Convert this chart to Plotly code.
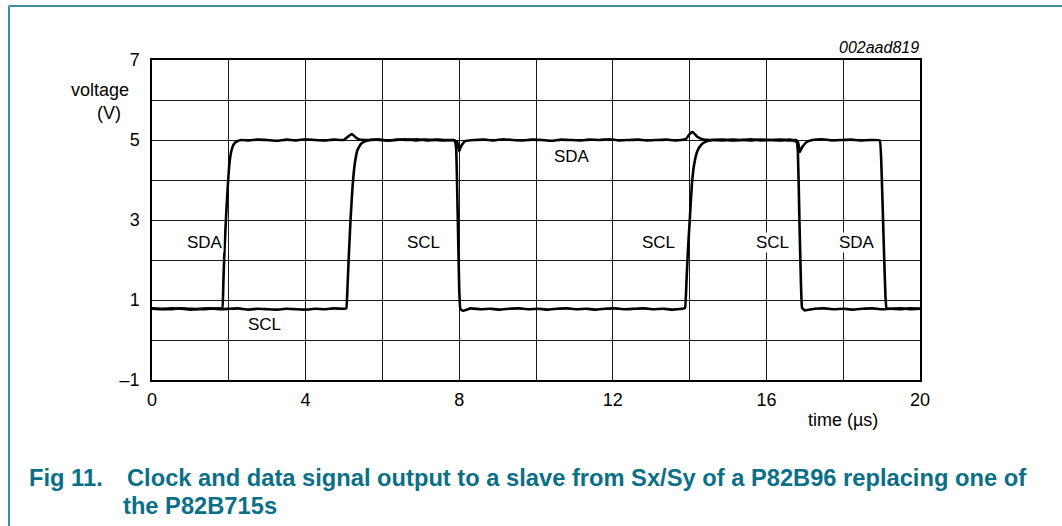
import plotly.graph_objects as go

# ---------------- data ----------------
SCL_t = [0.0,0.25,0.5,0.75,1.0,1.25,1.5,1.75,2.0,2.25,2.5,2.75,3.0,3.25,3.5,3.75,4.0,4.25,4.5,4.75,5.0,5.06,
         5.09,5.13,5.17,5.22,5.28,5.35,5.44,5.55,5.7,
         5.9,6.15,6.4,6.65,6.9,7.15,7.4,7.65,7.88,
         7.92,7.96,8.0,8.03,
         8.1,8.3,8.55,8.8,9.05,9.3,9.55,9.8,10.05,10.3,10.55,10.8,11.05,11.3,11.55,11.8,12.05,12.3,12.55,12.8,13.05,13.3,13.55,13.8,13.88,
         13.92,13.96,14.01,14.06,14.12,14.2,14.3,14.42,14.6,
         14.85,15.1,15.35,15.6,15.85,16.1,16.35,16.6,16.78,
         16.82,16.86,16.9,16.93,
         17.0,17.25,17.5,17.75,18.0,18.25,18.5,18.75,19.0,19.25,19.5,19.75,20.0]
SCL_v = [0.78,0.77,0.79,0.78,0.76,0.78,0.79,0.77,0.78,0.79,0.76,0.78,0.77,0.76,0.78,0.77,0.76,0.78,0.77,0.79,0.78,0.79,
         1.3,2.2,3.0,3.8,4.4,4.75,4.9,4.97,5.0,
         5.01,4.99,5.01,5.0,5.02,4.99,5.01,5.0,4.99,
         4.8,3.2,1.3,0.78,
         0.73,0.79,0.77,0.78,0.76,0.78,0.79,0.77,0.78,0.76,0.78,0.79,0.77,0.78,0.76,0.78,0.79,0.77,0.78,0.79,0.77,0.78,0.76,0.78,0.8,
         1.5,2.3,3.1,3.9,4.4,4.72,4.88,4.96,5.0,
         5.01,4.99,5.0,5.02,4.99,5.0,5.01,4.99,5.0,
         4.7,3.0,1.4,0.8,
         0.74,0.78,0.79,0.77,0.78,0.76,0.78,0.79,0.77,0.78,0.77,0.79,0.78]

SDA_t = [0.0,0.25,0.5,0.75,1.0,1.25,1.5,1.75,1.83,
         1.86,1.89,1.93,1.97,2.01,2.06,2.12,2.2,2.32,
         2.5,2.75,3.0,3.25,3.5,3.75,4.0,4.25,4.5,4.75,5.0,5.1,5.2,5.3,5.4,
         5.6,5.85,6.1,6.35,6.6,6.85,7.1,7.35,7.6,7.85,7.95,8.0,8.05,8.15,
         8.4,8.65,8.9,9.15,9.4,9.65,9.9,10.15,10.4,10.65,10.9,11.15,11.4,11.65,11.9,12.15,12.4,12.65,12.9,13.15,13.4,13.65,
         13.9,14.0,14.08,14.2,14.35,
         14.6,14.85,15.1,15.35,15.6,15.85,16.1,16.35,16.6,16.82,16.87,16.93,17.05,
         17.2,17.45,17.7,17.95,18.2,18.45,18.7,18.95,
         19.0,19.05,19.1,19.13,
         19.25,19.5,19.75,20.0]
SDA_v = [0.79,0.78,0.77,0.79,0.78,0.77,0.78,0.79,0.79,
         1.5,2.3,3.1,3.8,4.35,4.7,4.88,4.96,5.0,
         4.99,5.01,5.0,4.98,5.01,4.99,5.02,5.0,4.99,5.01,5.0,5.08,5.15,5.07,5.01,
         5.0,5.01,4.99,5.0,5.02,4.99,5.01,5.0,4.99,5.0,4.95,4.72,4.85,4.97,
         5.0,5.01,4.99,5.02,5.0,4.99,5.01,5.0,4.98,5.01,5.0,4.99,5.01,5.0,5.02,4.99,5.0,5.01,4.99,5.0,5.01,4.99,
         5.02,5.15,5.2,5.08,5.01,
         5.0,4.99,5.01,5.0,4.99,5.01,5.0,4.99,5.01,4.95,4.7,4.82,4.95,
         5.0,5.02,4.99,5.0,5.01,4.99,5.0,4.99,
         4.2,2.6,1.1,0.79,
         0.78,0.79,0.77,0.78]

label_text = ["SDA", "SCL", "SCL", "SDA", "SCL", "SCL", "SDA"]
label_x = [1.38, 2.94, 7.08, 10.94, 13.2, 16.17, 18.36]
label_y = [2.45, 0.38, 2.45, 4.58, 2.45, 2.45, 2.45]

x_ticks = [0, 2, 4, 6, 8, 10, 12, 14, 16, 18, 20]
x_tick_text = ["0", "", "4", "", "8", "", "12", "", "16", "", "20"]
y_ticks = [-1, 0, 1, 2, 3, 4, 5, 6, 7]
y_tick_text = ["\u20131", "", "1", "", "3", "", "5", "", "7"]

# ---------------- layout geometry ----------------
W, H = 1062, 526
L, R, T, B = 152, 920, 60, 380
PW, PH = R - L, B - T


def px(x):
    return (x - L) / PW


def py(y):
    return (B - y) / PH


FONT = "Liberation Sans, Arial, Helvetica, sans-serif"
TEAL = "#0b6f87"

fig = go.Figure()
fig.add_trace(go.Scatter(x=SCL_t, y=SCL_v, mode="lines", name="SCL",
                         line=dict(color="black", width=2.6, shape="spline", smoothing=0.3),
                         showlegend=False, hoverinfo="skip"))
fig.add_trace(go.Scatter(x=SDA_t, y=SDA_v, mode="lines", name="SDA",
                         line=dict(color="black", width=2.6, shape="spline", smoothing=0.3),
                         showlegend=False, hoverinfo="skip"))

annotations = []
for t, x, y in zip(label_text, label_x, label_y):
    annotations.append(dict(x=x, y=y, xref="x", yref="y", text=t, showarrow=False,
                            xanchor="center", yanchor="middle",
                            font=dict(family=FONT, size=17, color="black"),
                            bgcolor="white", borderpad=0))


def note(x, y, text, size=18, color="black", xanchor="center"):
    return dict(x=px(x), y=py(y), xref="paper", yref="paper", text=text, showarrow=False,
                xanchor=xanchor, yanchor="middle", font=dict(family=FONT, size=size, color=color))


annotations += [
    note(100, 90, "voltage"),
    note(109, 113, "(V)"),
    note(843, 420, "time (\u00b5s)"),
    note(921, 47, "<i>002aad819</i>", size=16, xanchor="right"),
    note(27, 478, "<b>Fig 11.</b>", size=23.7, color=TEAL, xanchor="left"),
    note(125, 478, "<b>Clock and data signal output to a slave from Sx/Sy of a P82B96 replacing one of</b>",
         size=23.7, color=TEAL, xanchor="left"),
    note(121, 506, "<b>the P82B715s</b>", size=23.7, color=TEAL, xanchor="left"),
]

shapes = [
    dict(type="line", xref="paper", yref="paper", x0=px(9), x1=px(9), y0=py(6), y1=py(540),
         line=dict(color="#3b8fa1", width=2)),
    dict(type="line", xref="paper", yref="paper", x0=px(9), x1=px(1070), y0=py(6), y1=py(6),
         line=dict(color="#3b8fa1", width=2)),
]

fig.update_layout(
    width=W, height=H,
    margin=dict(l=L, r=W - R, t=T, b=H - B),
    paper_bgcolor="white", plot_bgcolor="white",
    annotations=annotations, shapes=shapes,
    font=dict(family=FONT, size=18, color="black"),
    xaxis=dict(range=[0, 20], tickvals=x_ticks, ticktext=x_tick_text, showgrid=True,
               gridcolor="#1a1a1a", gridwidth=1, zeroline=False, showline=True, linecolor="black",
               linewidth=1.5, mirror=True, ticks="", ticklabelstandoff=3,
               tickfont=dict(family=FONT, size=18, color="black"), fixedrange=True),
    yaxis=dict(range=[-1, 7], tickvals=y_ticks, ticktext=y_tick_text, showgrid=True,
               gridcolor="#1a1a1a", gridwidth=1, zeroline=False, showline=True, linecolor="black",
               linewidth=1.5, mirror=True, ticks="", ticklabelstandoff=7,
               tickfont=dict(family=FONT, size=18, color="black"), fixedrange=True),
)

fig.write_html("out.html", config={"displayModeBar": False},
               post_script="document.body.style.margin='0';document.body.style.overflow='hidden';")
